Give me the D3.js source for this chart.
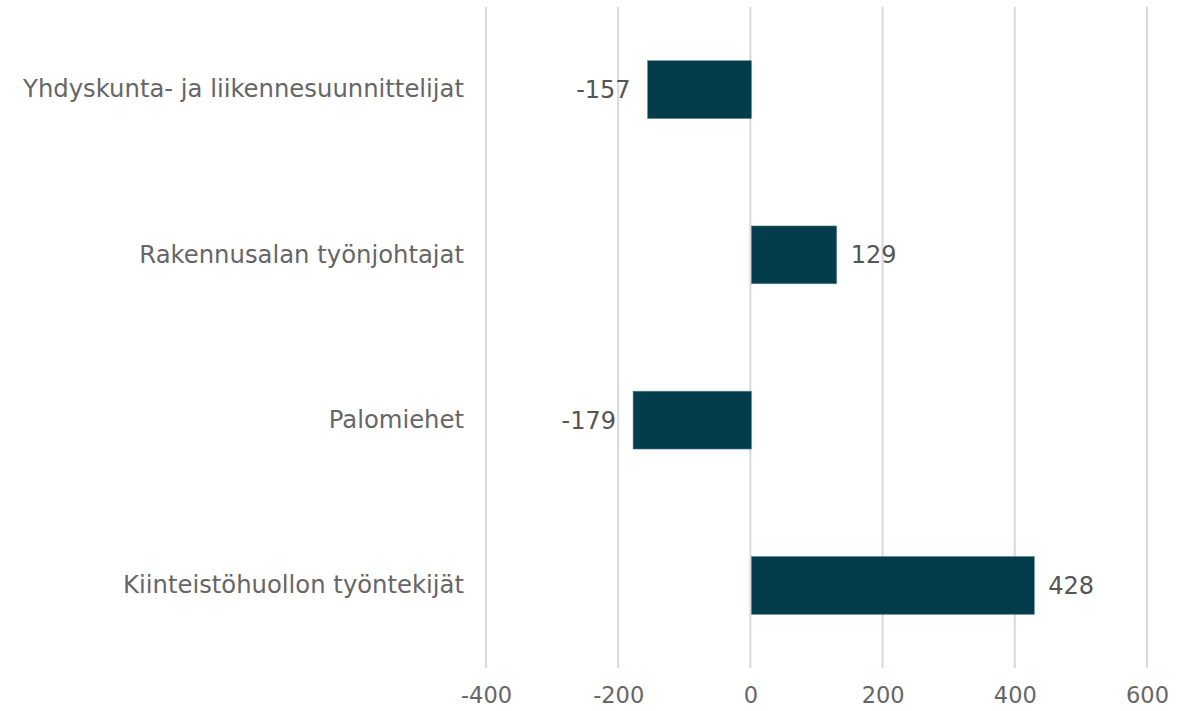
<!DOCTYPE html>
<html>
<head>
<meta charset="utf-8">
<script src="https://cdn.jsdelivr.net/npm/d3@7"></script>
<style>
  body { margin: 0; background: #fff; }
  text { font-family: "DejaVu Sans", Verdana, sans-serif; }
</style>
</head>
<body>
<svg id="chart" width="1198" height="711"></svg>
<script>
let categories = ["Yhdyskunta- ja liikennesuunnittelijat", "Rakennusalan työnjohtajat", "Palomiehet", "Kiinteistöhuollon työntekijät"]
let values = [-157, 129, -179, 428]
let ticks = [-400, -200, 0, 200, 400, 600]

let svg = d3.select("#chart")

let plotLeft = 486
let plotRight = 1147
let plotTop = 7
let plotBottom = 668

let xScale = d3.scaleLinear().domain([-400, 600]).range([plotLeft, plotRight])
let yScale = d3.scaleBand().domain(categories).range([plotTop, plotBottom]).paddingInner(0.65).paddingOuter(0.325)

// grid lines
svg.append("g")
    .selectAll("line")
    .data(ticks)
    .enter()
    .append("line")
    .attr("x1", d => xScale(d))
    .attr("x2", d => xScale(d))
    .attr("y1", plotTop)
    .attr("y2", plotBottom)
    .style("stroke", "#d9d9d9")
    .style("stroke-width", 2)

// x axis labels (plain hyphen for negatives)
let xAxis = d3.axisBottom(xScale).tickValues(ticks).tickSize(0).tickPadding(19)
    .tickFormat(d => String(d))
let xAxisGroup = svg.append("g")
    .attr("transform", `translate(0, ${plotBottom})`)
    .call(xAxis)
xAxisGroup.select(".domain").remove()
xAxisGroup.selectAll("text")
    .style("font-size", "22.5px")
    .style("fill", "#666666")
    .style("font-family", "DejaVu Sans, Verdana, sans-serif")

// category labels
let yAxis = d3.axisLeft(yScale).tickSize(0).tickPadding(0)
let yAxisGroup = svg.append("g")
    .attr("transform", "translate(464, 0)")
    .call(yAxis)
yAxisGroup.select(".domain").remove()
yAxisGroup.selectAll("text")
    .style("font-size", "24.3px")
    .style("fill", "#666666")
    .style("font-family", "DejaVu Sans, Verdana, sans-serif")

// bars
svg.append("g")
    .selectAll("rect")
    .data(values)
    .enter()
    .append("rect")
    .attr("x", d => Math.min(xScale(0), xScale(d)) + 1)
    .attr("y", (d, i) => yScale(categories[i]))
    .attr("width", d => Math.abs(xScale(d) - xScale(0)))
    .attr("height", yScale.bandwidth())
    .style("fill", "#033d4b")
    .style("stroke", "#5c8791")
    .style("stroke-width", 0.6)

// value labels
svg.append("g")
    .selectAll("text")
    .data(values)
    .enter()
    .append("text")
    .attr("x", d => d < 0 ? xScale(d) - 16 : xScale(d) + 15)
    .attr("y", (d, i) => yScale(categories[i]) + yScale.bandwidth() / 2)
    .attr("dy", "0.35em")
    .attr("text-anchor", d => d < 0 ? "end" : "start")
    .style("font-size", "24px")
    .style("fill", "#555555")
    .text(d => d)
</script>
</body>
</html>
